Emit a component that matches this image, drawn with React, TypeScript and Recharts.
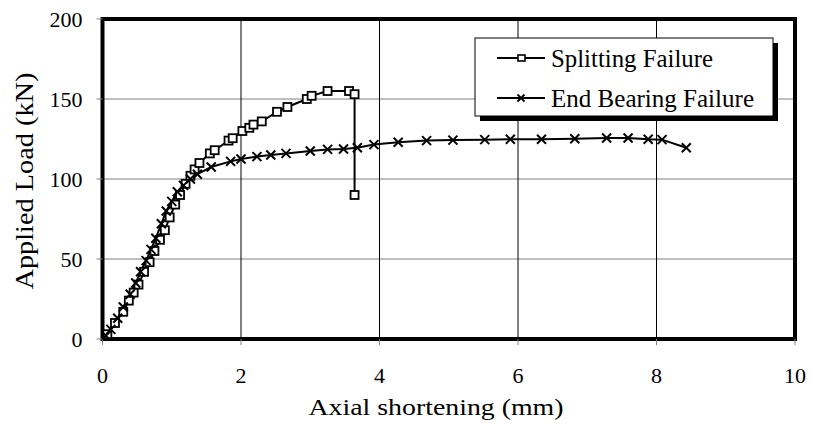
import React from 'react'
import {
  LineChart,
  Line,
  XAxis,
  YAxis,
  CartesianGrid,
  ReferenceArea,
  Label,
} from 'recharts'

// Axial shortening (mm) / applied load (kN)
const SPLIT_X = [0.07, 0.18, 0.3, 0.38, 0.45, 0.52, 0.6, 0.68, 0.75, 0.83, 0.9, 0.97, 1.05, 1.12, 1.2, 1.27, 1.33, 1.4, 1.55, 1.62, 1.82, 1.88, 2.02, 2.12, 2.18, 2.3, 2.52, 2.67, 2.95, 3.02, 3.25, 3.56, 3.64, 3.64]
const SPLIT_Y = [3, 10, 17, 24, 29, 34, 42, 48, 55, 62, 68, 76, 84, 90, 97, 102, 106, 110, 116, 118, 124, 125.5, 130, 132, 134, 136, 142, 145, 150, 152, 155, 155, 153, 90]

const BEAR_X = [0.05, 0.12, 0.22, 0.3, 0.4, 0.48, 0.55, 0.63, 0.7, 0.77, 0.85, 0.92, 1.0, 1.08, 1.17, 1.27, 1.37, 1.57, 1.85, 2.0, 2.23, 2.43, 2.65, 3.0, 3.25, 3.48, 3.68, 3.92, 4.27, 4.68, 5.06, 5.52, 5.89, 6.34, 6.82, 7.28, 7.59, 7.88, 8.08, 8.43]
const BEAR_Y = [2, 6, 13, 20, 28, 35, 42, 49, 56, 63, 72, 80, 86, 92, 96, 100, 103, 107.5, 111, 112.5, 114, 115, 116, 117.5, 118.5, 118.8, 119.5, 121.5, 123, 124, 124.3, 124.6, 124.8, 124.8, 125.2, 125.6, 125.6, 124.8, 124.6, 119.5]

const X_TICKS = [0, 2, 4, 6, 8, 10]
const Y_TICKS = [0, 50, 100, 150, 200]

const SERIES = [
  { name: 'Splitting Failure', xs: SPLIT_X, ys: SPLIT_Y, marker: 'square' },
  { name: 'End Bearing Failure', xs: BEAR_X, ys: BEAR_Y, marker: 'cross' },
]

const FONT = 'Liberation Serif, Times New Roman, Times, serif'

const toPoints = (xs: number[], ys: number[]) => xs.map((x, i) => ({ x, y: ys[i] }))

function SquareDot(props: any) {
  const { cx, cy } = props
  if (cx == null || cy == null) return null
  return <rect x={cx - 4} y={cy - 4} width={8} height={8} fill="#fff" stroke="#000" strokeWidth={1.8} />
}

function CrossDot(props: any) {
  const { cx, cy } = props
  if (cx == null || cy == null) return null
  const r = 4.5
  return (
    <path
      d={`M${cx - r},${cy - r}L${cx + r},${cy + r}M${cx - r},${cy + r}L${cx + r},${cy - r}`}
      stroke="#000"
      strokeWidth={2}
    />
  )
}

function LegendBox() {
  return (
    <svg width={813} height={430} style={{ position: 'absolute', left: 0, top: 0, pointerEvents: 'none', fontFamily: FONT }}>
      <rect x={480} y={43} width={298} height={78} fill="#000" />
      <rect x={475} y={38} width={298} height={78} fill="#fff" stroke="#000" strokeWidth={1} />
      {SERIES.map((s, i) => {
        const y = 58 + i * 40
        return (
          <g key={s.name}>
            <line x1={497} x2={545} y1={y} y2={y} stroke="#000" strokeWidth={2} />
            {s.marker === 'square' ? (
              <rect x={518} y={y - 3} width={7} height={6} fill="#fff" stroke="#000" strokeWidth={1.6} />
            ) : (
              <path d={`M${517.5},${y - 3.5}L${524.5},${y + 3.5}M${517.5},${y + 3.5}L${524.5},${y - 3.5}`} stroke="#000" strokeWidth={1.8} />
            )}
            <text
              x={551}
              y={y + 8.5}
              style={{ fontFamily: FONT }}
              fontSize={26}
              fill="#000"
              textLength={i === 0 ? 162 : 203}
              lengthAdjust="spacingAndGlyphs"
            >
              {s.name}
            </text>
          </g>
        )
      })}
    </svg>
  )
}

export default function App() {
  return (
    <div style={{ position: 'absolute', left: 0, top: 0, width: 813, height: 430, background: '#fff', fontFamily: FONT }}>
      <LineChart width={813} height={430} margin={{ top: 19, right: 18, bottom: 61, left: 42.5 }} style={{ fontFamily: FONT }}>
        <CartesianGrid horizontal={true} vertical={false} stroke="#808080" strokeWidth={1} />
        <CartesianGrid horizontal={false} vertical={true} stroke="#000" strokeWidth={1} />
        <XAxis
          type="number"
          dataKey="x"
          domain={[0, 10]}
          ticks={X_TICKS}
          axisLine={false}
          tickLine={{ stroke: '#808080' }}
          tickSize={6}
          tickMargin={22}
          height={30}
          tick={{ fontSize: 22, fill: '#000', style: { fontFamily: FONT } }}
          allowDataOverflow
        >
          <Label
            content={() => (
              <text x={436} y={415} textAnchor="middle" style={{ fontFamily: FONT }} fontSize={24} fill="#000" textLength={255} lengthAdjust="spacingAndGlyphs">
                Axial shortening (mm)
              </text>
            )}
          />
        </XAxis>
        <YAxis
          type="number"
          dataKey="y"
          domain={[0, 200]}
          ticks={Y_TICKS}
          axisLine={false}
          tickLine={{ stroke: '#808080' }}
          tickSize={6}
          tickMargin={14}
          width={60}
          tick={{ fontSize: 22, fill: '#000', style: { fontFamily: FONT } }}
        >
          <Label
            content={() => (
              <text
                x={33}
                y={181}
                transform="rotate(-90 33 181)"
                textAnchor="middle"
                style={{ fontFamily: FONT }}
                fontSize={26}
                fill="#000"
                textLength={217}
                lengthAdjust="spacingAndGlyphs"
              >
                Applied Load (kN)
              </text>
            )}
          />
        </YAxis>
        {SERIES.map((s) => (
          <Line
            key={s.name}
            data={toPoints(s.xs, s.ys)}
            dataKey="y"
            name={s.name}
            type="linear"
            stroke="#000"
            strokeWidth={2}
            dot={s.marker === 'square' ? <SquareDot /> : <CrossDot />}
            activeDot={false}
            isAnimationActive={false}
          />
        ))}
        <ReferenceArea x1={0} x2={10} y1={0} y2={200} fill="none" stroke="#000" strokeWidth={4} ifOverflow="visible" />
      </LineChart>
      <LegendBox />
    </div>
  )
}
